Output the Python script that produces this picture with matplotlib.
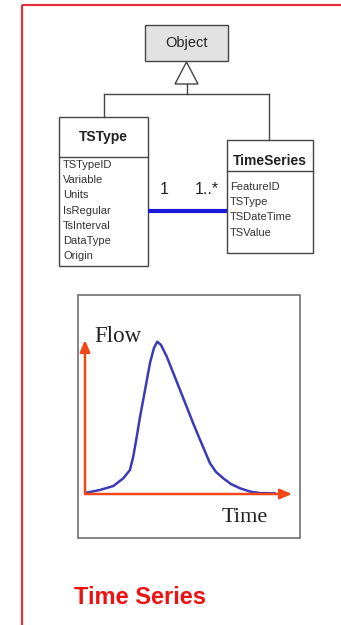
import matplotlib
matplotlib.use("Agg")
import matplotlib.pyplot as plt
from matplotlib import font_manager
from matplotlib.patches import Rectangle, Polygon

# class diagram content
parent_class = "Object"
tstype_attrs = ["TSTypeID", "Variable", "Units", "IsRegular", "TsInterval", "DataType", "Origin"]
timeseries_attrs = ["FeatureID", "TSType", "TSDateTime", "TSValue"]
mult_left = "1"
mult_right = "1..*"

# hydrograph (time, flow)
time = [0.05, 0.72, 1.37, 1.85, 2.17, 2.33, 2.50, 2.66, 2.90, 3.14, 3.33, 3.49,
        3.67, 3.95, 4.27, 4.91, 5.22, 5.56, 6.04, 6.33, 6.68, 7.05, 7.49, 7.97,
        8.45, 9.18]
flow = [0.008, 0.026, 0.052, 0.102, 0.156, 0.242, 0.372, 0.502, 0.675, 0.851, 0.948, 0.989,
        0.968, 0.892, 0.784, 0.567, 0.461, 0.351, 0.199, 0.143, 0.102, 0.065, 0.037, 0.016,
        0.006, 0.005]

names = {f.name for f in font_manager.fontManager.ttflist}
narrow = "Liberation Sans Narrow" if "Liberation Sans Narrow" in names else "Liberation Sans"

W, H = 341, 625
fig = plt.figure(figsize=(W / 100, H / 100), dpi=100)
ax = fig.add_axes([0, 0, 1, 1])
ax.set_xlim(0, W)
ax.set_ylim(H, 0)
ax.axis("off")

# red frame, open to the right and bottom
ax.add_patch(Rectangle((21.5, 5), 400, 700, fill=False, ec="#e0303a", lw=1.6))

edge = "#454545"
# Object box
ax.add_patch(Rectangle((145, 25), 83, 36, fc="#e2e2e2", ec=edge, lw=1.0))
ax.text(186.5, 43, parent_class, ha="center", va="center", fontsize=10.5, family=narrow, color="#222222")

# generalisation triangle and connectors
ax.add_patch(Polygon([(186.5, 62), (175, 84), (198, 84)], closed=True, fc="white", ec=edge, lw=1.0))
ax.plot([186.5, 186.5], [84, 94], color=edge, lw=1.0)
ax.plot([104, 269], [94, 94], color=edge, lw=1.0)
ax.plot([104, 104], [94, 117], color=edge, lw=1.0)
ax.plot([269, 269], [94, 140], color=edge, lw=1.0)

# TSType class
ax.add_patch(Rectangle((59, 117), 89, 149, fc="white", ec=edge, lw=1.0))
ax.plot([59, 148], [157, 157], color=edge, lw=1.0)
ax.text(103.5, 137, "TSType", ha="center", va="center", fontsize=10, fontweight="bold", family=narrow, color="#222222")
for i, a in enumerate(tstype_attrs):
    ax.text(63, 165 + i * 15.2, a, ha="left", va="center", fontsize=8, family=narrow, color="#333333")

# TimeSeries class
ax.add_patch(Rectangle((227, 140), 86, 113, fc="white", ec=edge, lw=1.0))
ax.plot([227, 313], [171, 171], color=edge, lw=1.0)
ax.text(270, 161, "TimeSeries", ha="center", va="center", fontsize=10, fontweight="bold", family=narrow, color="#222222")
for i, a in enumerate(timeseries_attrs):
    ax.text(230, 187 + i * 15.2, a, ha="left", va="center", fontsize=8, family=narrow, color="#333333")

# association
ax.plot([148, 227], [211, 211], color="#1a1ad8", lw=3.0, solid_capstyle="butt")
ax.text(164, 190, mult_left, ha="center", va="center", fontsize=11.5, family="Liberation Sans", color="#222222")
ax.text(207, 190, mult_right, ha="center", va="center", fontsize=11.5, family="Liberation Sans", color="#222222")

# hydrograph frame
ax.add_patch(Rectangle((78, 295), 222, 243, fc="white", ec="#707070", lw=1.2))

# hydrograph axes (origin at the arrow corner)
x0, x1, y0, y1 = 85, 292, 494, 340
hax = fig.add_axes([x0 / W, 1 - y0 / H, (x1 - x0) / W, (y0 - y1) / H])
hax.set_xlim(0, 10)
hax.set_ylim(0, 1)
hax.axis("off")
hax.plot(time, flow, color="#3b3bb5", lw=1.8, solid_joinstyle="round", solid_capstyle="round")
arrow = dict(arrowstyle="-|>,head_length=0.7,head_width=0.3", color="#f04818", lw=1.8, shrinkA=0, shrinkB=0)
hax.annotate("", xy=(1, 0), xytext=(0, 0), xycoords="axes fraction", arrowprops=arrow, annotation_clip=False)
hax.annotate("", xy=(0, 1), xytext=(0, 0), xycoords="axes fraction", arrowprops=arrow, annotation_clip=False)

ax.text(94, 337, "Flow", ha="left", va="center", fontsize=16.5, family="Liberation Serif", color="#222222")
ax.text(222, 518, "Time", ha="left", va="center", fontsize=16, family="Liberation Serif", color="#222222")

# caption
ax.text(74, 598, "Time Series", ha="left", va="center", fontsize=17, fontweight="bold", family=narrow, color="#ee1111")

fig.savefig("out.png", dpi=100)
